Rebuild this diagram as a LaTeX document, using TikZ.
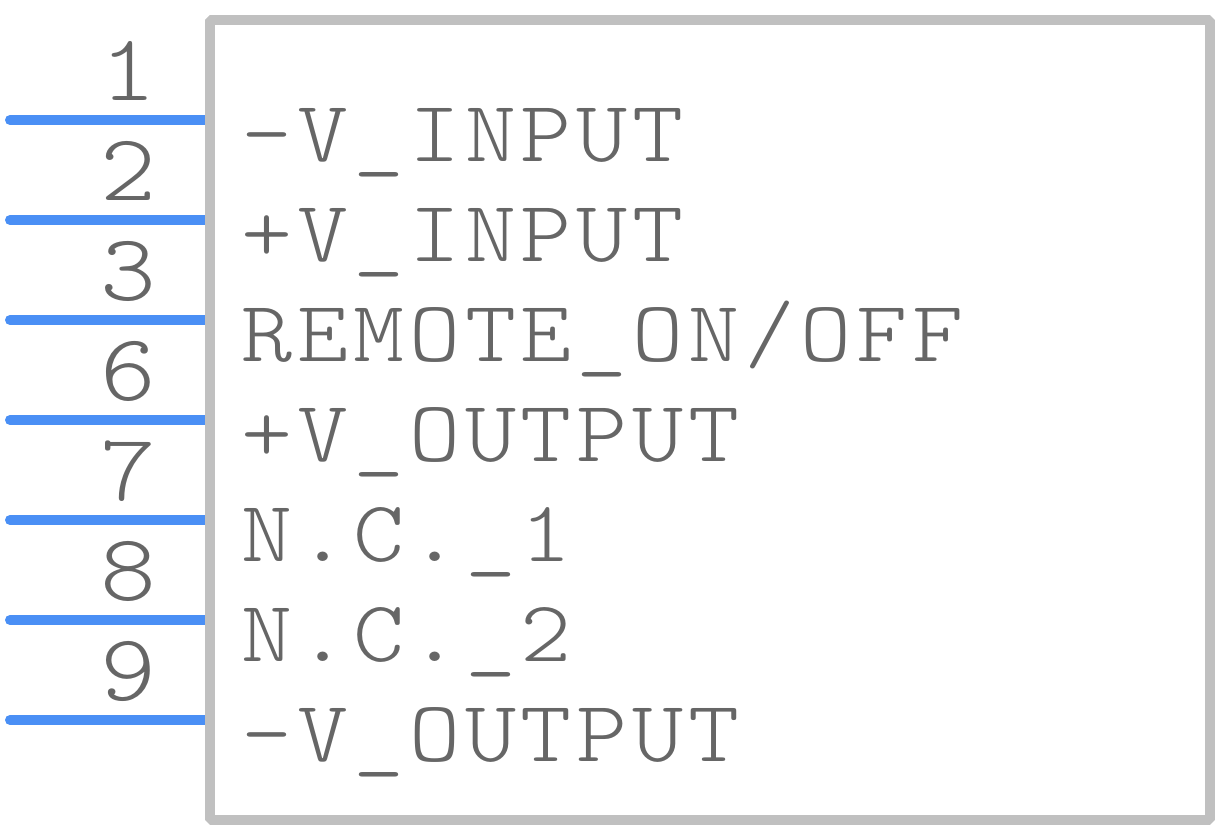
\documentclass[tikz,border=0pt]{standalone}
\usepackage{fontspec}
\setmonofont{Latin Modern Mono Light}[FakeStretch=1.12, LetterSpace=5.6]
\usepackage{tikz}
\definecolor{pinblue}{HTML}{4A8FF5}
\definecolor{bodygray}{HTML}{C0C0C0}
\definecolor{textgray}{HTML}{666666}
\tikzset{
	pinline/.style={line width=5pt, color=pinblue, line cap=round},
	pinnum/.style={anchor=base, inner sep=0pt, text=textgray, font=\ttfamily\fontsize{47.5pt}{47.5pt}\selectfont},
	pinname/.style={anchor=base west, inner sep=0pt, text=textgray, font=\ttfamily\fontsize{43.4pt}{43.4pt}\selectfont}
}

\begin{document}
\begin{tikzpicture}[x=0.5pt, y=-0.5pt]
			%%%%% START %%%%%
			\useasboundingbox (0, 0) rectangle (1220, 830);
			
			\coordinate (p1a) at (10, 120);  \coordinate (p1b) at (208, 120);
			\coordinate (p2a) at (10, 220);  \coordinate (p2b) at (208, 220);
			\coordinate (p3a) at (10, 320);  \coordinate (p3b) at (208, 320);
			\coordinate (p6a) at (10, 420);  \coordinate (p6b) at (208, 420);
			\coordinate (p7a) at (10, 520);  \coordinate (p7b) at (208, 520);
			\coordinate (p8a) at (10, 620);  \coordinate (p8b) at (208, 620);
			\coordinate (p9a) at (10, 720);  \coordinate (p9b) at (208, 720);
			
			\draw[pinline] (p1a) -- (p1b);
			\draw[pinline] (p2a) -- (p2b);
			\draw[pinline] (p3a) -- (p3b);
			\draw[pinline] (p6a) -- (p6b);
			\draw[pinline] (p7a) -- (p7b);
			\draw[pinline] (p8a) -- (p8b);
			\draw[pinline] (p9a) -- (p9b);
			
			\draw[line width=5pt, color=bodygray, line join=bevel] (210, 20) rectangle (1210, 820);
			
			\node[pinnum] (n1) at (128, 100) {1};
			\node[pinnum] (n2) at (128, 200) {2};
			\node[pinnum] (n3) at (128, 300) {3};
			\node[pinnum] (n6) at (128, 400) {6};
			\node[pinnum] (n7) at (128, 500) {7};
			\node[pinnum] (n8) at (128, 600) {8};
			\node[pinnum] (n9) at (128, 700) {9};
			
			\node[pinname] (vinm) at (241, 161) {-V\_INPUT};
			\node[pinname] (vinp) at (241, 261) {+V\_INPUT};
			\node[pinname] (remote) at (241, 361) {REMOTE\_ON/OFF};
			\node[pinname] (voutp) at (241, 461) {+V\_OUTPUT};
			\node[pinname] (nc1) at (241, 561) {N.C.\_1};
			\node[pinname] (nc2) at (241, 661) {N.C.\_2};
			\node[pinname] (voutm) at (241, 761) {-V\_OUTPUT};
			
			%%%%% END %%%%%
		\end{tikzpicture}
\end{document}
